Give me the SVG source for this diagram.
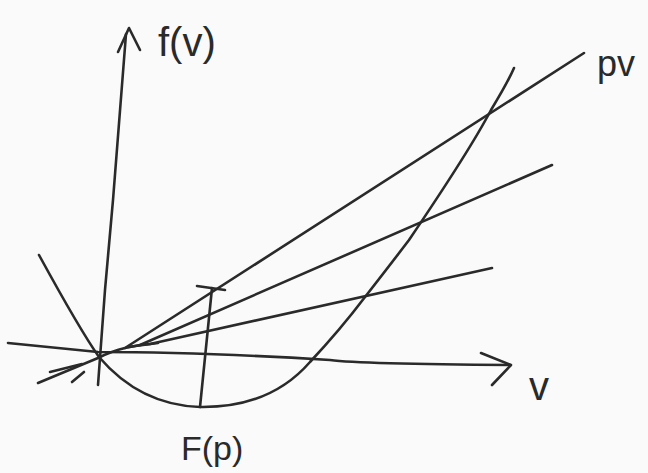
<svg xmlns="http://www.w3.org/2000/svg" width="648" height="473" viewBox="0 0 648 473">
<style>
.s{fill:none;stroke:#2a2a2a;stroke-width:2.6;stroke-linecap:round;stroke-linejoin:round}
.t{font-family:"Liberation Sans","DejaVu Sans",sans-serif;fill:#2a2a2a}
</style>
<rect width="648" height="473" fill="#fafafa"/>
<g id="axes">
<path class="s" d="M98 385 L105 290 L113 200 L126 34"/>
<path class="s" d="M118 52 L129 28 L140 50"/>
<path class="s" d="M8 343 Q60 348 98 352 Q200 352 330 360 Q360 364 510 365"/>
<path class="s" d="M481 353 L511 365 L492 385"/>
</g>
<g id="curve">
<path class="s" d="M39 255 Q80 330 99 357 Q140 405 200 407 Q270 408 310 362 Q340 330 365 297 Q390 265 409 240 Q470 150 491 110 Q508 82 514 68"/>
</g>
<g id="lines">
<path class="s" d="M38 383 L98 358 Q112 351 125 348 L584 53"/>
<path class="s" d="M125 348 L140 345 L552 165"/>
<path class="s" d="M140 345 L150 344 L492 268"/>
<path class="s" stroke-width="4" d="M128 347 L158 343"/>
<path class="s" d="M50 372 L82 364"/>
<path class="s" d="M72 382 L84 372"/>
</g>
<g id="Fp">
<path class="s" d="M200 407 L212 288"/>
<path class="s" d="M197 286 L225 290"/>
</g>
<g id="labels">
<text class="t" x="158" y="56" font-size="40">f(v)</text>
<text class="t" x="597" y="76" font-size="36">pv</text>
<text class="t" x="529" y="400" font-size="40">v</text>
<text class="t" x="181" y="460" font-size="34">F(p)</text>
</g>
</svg>
